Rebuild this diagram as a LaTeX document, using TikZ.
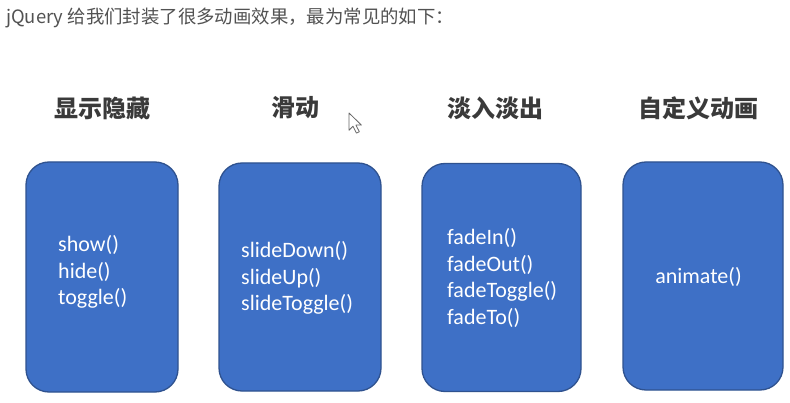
\documentclass[tikz,border=0pt]{standalone}
\usepackage{fontspec}
\setmainfont{Carlito}
\newfontfamily\cjk{Noto Sans CJK SC}
\definecolor{boxblue}{HTML}{3E70C6}
\definecolor{boxedge}{HTML}{2F528F}
\definecolor{headgray}{HTML}{3A3A3A}
\begin{document}
\begin{tikzpicture}[x=1pt,y=-1pt,
        fxbox/.style={draw=boxedge,line width=1.3pt,fill=boxblue,rounded corners=23pt,inner sep=0pt},
        fxlist/.style={text=white,align=left,anchor=west,inner sep=0pt,font=\fontsize{22}{26.5}\selectfont},
        fxhead/.style={text=headgray,font=\cjk\bfseries\fontsize{24}{28}\selectfont}]
        \fill[white] (0,0) rectangle (790,403);
        \useasboundingbox (0,0) rectangle (790,403);
        \node[anchor=west,text=black!68,inner sep=0pt,font=\cjk\fontsize{18.4}{22}\selectfont] (intro) at (6,18) {jQuery 给我们封装了很多动画效果，最为常见的如下：};
        % headings
        \node[fxhead] (showhead) at (102,108) {显示隐藏};
        \node[fxhead] (slidehead) at (295,108) {滑动};
        \node[fxhead] (fadehead) at (495,108) {淡入淡出};
        \node[fxhead] (animhead) at (698,108) {自定义动画};
        % boxes
        \node[fxbox,minimum width=152pt,minimum height=230pt] (showbox) at (102,277) {};
        \node[fxbox,minimum width=162pt,minimum height=228pt] (slidebox) at (300,277) {};
        \node[fxbox,minimum width=159pt,minimum height=228pt] (fadebox) at (501.5,277.5) {};
        \node[fxbox,minimum width=160pt,minimum height=228pt] (animbox) at (703,276) {};
        % method lists
        \node[fxlist] (showtxt) at (58,272) {show()\\hide()\\toggle()};
        \node[fxlist] (slidetxt) at (241,278) {slideDown()\\slideUp()\\slideToggle()};
        \node[fxlist] (fadetxt) at (447,278) {fadeIn()\\fadeOut()\\fadeToggle()\\fadeTo()};
        \node[fxlist,anchor=center] (animtxt) at (698.5,277) {animate()};
        % mouse pointer
        \begin{scope}[shift={(349,113)},scale=1.15]
            \draw[fill=white,draw=black!60,line width=0.8pt,line join=round]
                (0,0) -- (0,15) -- (3.5,11.5) -- (6.5,17.5) -- (9,16.3) -- (6,10.5) -- (10.8,10.5) -- cycle;
        \end{scope}
\end{tikzpicture}
\end{document}
